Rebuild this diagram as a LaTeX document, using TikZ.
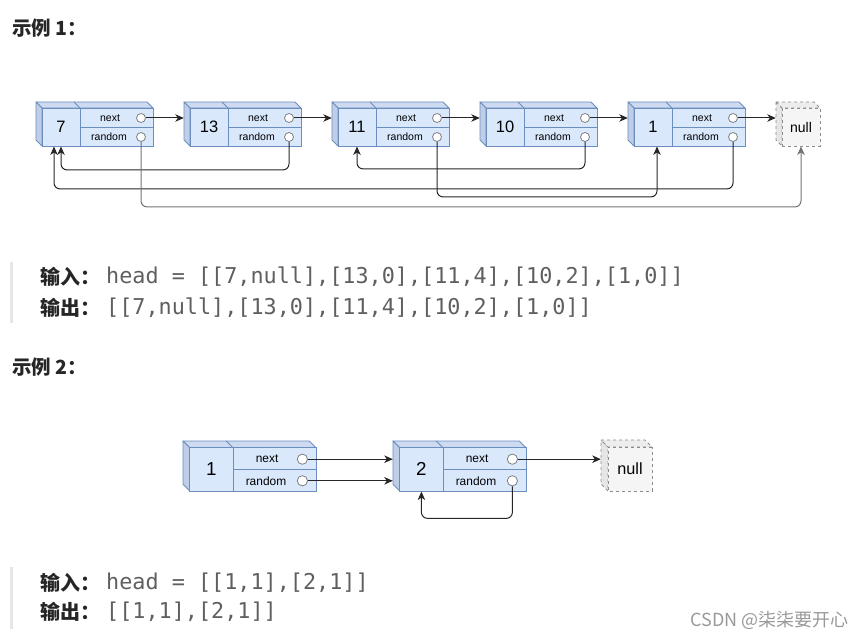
\documentclass[tikz,border=0pt]{standalone}
\usepackage{fontspec}
\setmainfont{Liberation Sans}
\setmonofont{DejaVu Sans Mono}
\newfontfamily\cjk{Noto Sans CJK SC}
\usetikzlibrary{arrows.meta}

\definecolor{nodefill}{HTML}{DAE8FC}
\definecolor{nodetop}{HTML}{CDDAF0}
\definecolor{nodeside}{HTML}{BFCDE6}
\definecolor{nodeline}{HTML}{6C8EBF}
\definecolor{nullfill}{HTML}{F5F5F5}
\definecolor{nullside}{HTML}{E6E6E6}
\definecolor{codegray}{HTML}{5F5F5F}
\definecolor{barcol}{HTML}{E6E6E6}

\begin{document}
\begin{tikzpicture}[x=1pt,y=-1pt,>={Stealth[length=8.5pt,width=7.5pt,inset=2.5pt]},
    hull/.style={rectangle,inner sep=0pt,minimum width=117pt,minimum height=44pt},
    face/.style={draw=nodeline,line width=0.9pt,line join=round},
    val cell/.style={rectangle,draw=nodeline,fill=nodefill,line width=0.9pt,inner sep=0pt,
      minimum width=38pt,minimum height=38pt,font=\fontsize{16.5}{16.5}\selectfont},
    ptr cell/.style={rectangle,draw=nodeline,fill=nodefill,line width=0.9pt,inner sep=0pt,
      minimum width=73pt,minimum height=19pt},
    ptr label/.style={inner sep=0pt,font=\fontsize{10.5}{10.5}\selectfont},
    dot/.style={circle,draw=black!50,fill=white,line width=0.8pt,inner sep=0pt,minimum size=9pt},
    null face/.style={draw=black!45,dashed,line width=0.9pt,line join=round},
    null cell/.style={rectangle,draw=black!45,dashed,fill=nullfill,line width=0.9pt,inner sep=0pt,
      minimum width=38pt,minimum height=38pt,font=\fontsize{14}{14}\selectfont},
    link/.style={->,line width=1pt,black!85},
    rnd link/.style={link,rounded corners=6pt},
    title/.style={anchor=west,inner sep=0pt,font=\cjk\bfseries\fontsize{19.5}{19.5}\selectfont,black!85},
    io label/.style={anchor=west,inner sep=0pt,font=\cjk\bfseries\fontsize{20}{20}\selectfont,black!85},
    io text/.style={anchor=west,inner sep=0pt,font=\ttfamily\fontsize{21.8}{21.8}\selectfont,codegray},
    bar/.style={barcol,line width=3pt}]
  \useasboundingbox (0,0) rectangle (864,639);

  % list nodes: name/x/y/value/scale
  \foreach \nm/\x/\y/\val/\s in {a0/36/102/7/1,a1/184/102/13/1,a2/332/102/11/1,
      a3/480/102/10/1,a4/628/102/1/1,b0/183/441/1/1.137,b1/393/441/2/1.137}{
    \begin{scope}[shift={(\x,\y)},scale=\s,transform shape]
      \node[hull] (h-\nm) at (58.5,22) {};
      \draw[face,fill=nodetop] (0,0) -- (111,0) -- (117,6) -- (6,6) -- cycle;
      \draw[face] (38,0) -- (44,6);
      \draw[face,fill=nodeside] (0,0) -- (6,6) -- (6,44) -- (0,38) -- cycle;
      \node[val cell] (v-\nm) at (25,25) {\val};
      \node[ptr cell] (n-\nm) at (80.5,15.5) {};
      \node[ptr cell] (r-\nm) at (80.5,34.5) {};
      \node[ptr label] (nl-\nm) at (74,16) {next};
      \node[ptr label] (rl-\nm) at (73,35) {random};
      \node[dot] (nc-\nm) at (105,16) {};
      \node[dot] (rc-\nm) at (105,35) {};
    \end{scope}
  }

  % null boxes
  \foreach \nm/\x/\y/\s in {nullA/776/102/1,nullB/601/440/1.16}{
    \begin{scope}[shift={(\x,\y)},scale=\s,transform shape]
      \node[hull,minimum width=44pt] (h-\nm) at (22,22) {};
      \draw[null face,fill=nullside] (0,0) -- (6,6) -- (6,44) -- (0,38) -- cycle;
      \draw[null face,fill=nullside!50!nullfill] (0,0) -- (38,0) -- (44,6) -- (6,6) -- cycle;
      \node[null cell] (\nm) at (25,25) {null};
    \end{scope}
  }

  % next pointers
  \foreach \i/\j in {a0/a1,a1/a2,a2/a3,a3/a4,a4/nullA,b0/b1,b1/nullB}
    \draw[link] (nc-\i.east) -- (nc-\i -| h-\j.west);

  % random pointers
  \draw[rnd link] (rc-a1.south) -- ++(0,28) -| (v-a0.south);
  \draw[rnd link] (rc-a3.south) -- ++(0,27) -| (v-a2.south);
  \draw[rnd link] (rc-a4.south) -- ++(0,47) -| ([xshift=-7pt]v-a0.south);
  \draw[rnd link] (rc-a2.south) -- ++(0,55) -| ([xshift=4pt]v-a4.south);
  \draw[rnd link,black!55] (rc-a0.south) -- ++(0,65) -| (nullA.south);
  \draw[link] (rc-b0.east) -- (rc-b0 -| h-b1.west);
  \draw[rnd link] (rc-b1.south) -- ++(0,32) -| (v-b1.south);

  % texts
  \node[title] (t1) at (12,28) {示例 1：};
  \draw[bar] (11.5,262) -- (11.5,323);
  \node[io label] (in1) at (40,277) {输入：};
  \node[io text] (in1v) at (106,277) {head = [[7,null],[13,0],[11,4],[10,2],[1,0]]};
  \node[io label] (out1) at (40,308) {输出：};
  \node[io text] (out1v) at (106,308) {[[7,null],[13,0],[11,4],[10,2],[1,0]]};

  \node[title] (t2) at (12,367) {示例 2：};
  \draw[bar] (11.5,567) -- (11.5,629);
  \node[io label] (in2) at (40,583) {输入：};
  \node[io text] (in2v) at (106,583) {head = [[1,1],[2,1]]};
  \node[io label] (out2) at (40,612) {输出：};
  \node[io text] (out2v) at (106,612) {[[1,1],[2,1]]};

  \node[anchor=east,inner sep=0pt,font=\cjk\fontsize{18}{18}\selectfont,black!40] (mark) at (849,620) {CSDN @柒柒要开心};
\end{tikzpicture}
\end{document}
